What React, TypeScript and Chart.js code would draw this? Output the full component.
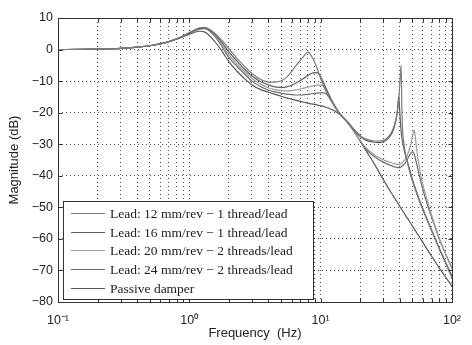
import { useEffect, useRef } from 'react';
import { Chart, registerables } from 'chart.js';

Chart.register(...registerables);

const FREQ = [0.1, 0.15, 0.2, 0.3, 0.4, 0.5, 0.6, 0.7, 0.8, 0.9,
  1.0, 1.1, 1.2, 1.3, 1.4, 1.5, 1.6, 1.8, 2.0, 2.3,
  2.6, 3.0, 3.5, 4.0, 4.5, 5.0, 5.5, 6.0, 6.5, 7.0,
  7.5, 8.0, 8.5, 9.0, 9.5, 10, 10.5, 11, 11.5, 12,
  13, 14, 16, 18, 20, 22, 25, 28, 31, 34,
  36, 37.5, 38.5, 39.3, 40, 40.5, 41, 41.5, 42, 43,
  44, 45, 46, 47.5, 49, 50.5, 51.5, 52.5, 54, 56,
  58, 60, 65, 70, 75, 80, 90, 100];

const LEAD12 = [0, 0.05, 0.15, 0.4, 0.8, 1.2, 1.8, 2.5, 3.4, 4.4,
  5.4, 6.3, 6.9, 7.0, 6.6, 5.8, 4.8, 2.6, 0.3, -2.7,
  -5.1, -7.6, -9.5, -10.3, -10.3, -9.9, -8.8, -7.0, -5.0, -3.4,
  -1.9, -0.8, -2.0, -4.0, -6.5, -9.2, -11.5, -13.3, -14.8, -16.1,
  -18.3, -20.3, -22.8, -25.3, -27.2, -28.3, -28.9, -29.0, -28.5, -26.8,
  -24.5, -22.0, -19.2, -15.8, -11.2, -7.5, -5.0, -18.0, -25.0, -29.5,
  -32.5, -34.5, -36.2, -38.5, -40.5, -42.3, -43.3, -44.3, -45.8, -47.6,
  -49.3, -50.8, -54.3, -57.5, -60.4, -63.2, -68.0, -72.5];

const LEAD16 = [0, 0.05, 0.15, 0.4, 0.8, 1.2, 1.8, 2.5, 3.4, 4.3,
  5.2, 6.1, 6.7, 6.8, 6.4, 5.5, 4.4, 1.9, -0.7, -3.6,
  -6.0, -8.4, -10.2, -11.2, -11.8, -12.0, -11.8, -11.3, -10.6, -9.8,
  -9.0, -8.2, -7.6, -7.3, -7.4, -8.6, -10.4, -12.3, -14.1, -15.7,
  -18.3, -20.3, -22.9, -25.5, -27.6, -28.7, -29.3, -29.5, -29.0, -27.3,
  -25.2, -22.3, -19.0, -14.8, -19.5, -23.0, -25.8, -27.8, -29.2, -31.3,
  -33.0, -34.5, -35.8, -37.8, -39.8, -41.7, -42.8, -43.8, -45.3, -47.2,
  -48.9, -50.4, -54.0, -57.2, -60.1, -62.9, -67.6, -71.8];

const LEAD20 = [0, 0.05, 0.15, 0.4, 0.8, 1.2, 1.8, 2.5, 3.4, 4.3,
  5.1, 6.0, 6.6, 6.7, 6.2, 5.2, 4.0, 1.2, -1.6, -4.5,
  -6.8, -9.2, -11.0, -12.1, -12.7, -13.0, -13.1, -13.0, -12.8, -12.5,
  -12.2, -11.9, -11.6, -11.4, -11.3, -11.3, -11.6, -12.6, -14.1, -15.7,
  -18.4, -20.4, -23.0, -25.9, -28.8, -31.0, -33.0, -34.3, -35.2, -35.8,
  -36.1, -36.3, -36.4, -36.4, -36.3, -36.2, -36.1, -35.9, -35.7, -35.3,
  -34.8, -34.1, -33.2, -31.5, -29.3, -26.7, -25.5, -27.5, -32.0, -36.5,
  -40.0, -42.8, -48.0, -52.5, -56.3, -59.7, -65.0, -69.5];

const LEAD24 = [0, 0.05, 0.15, 0.4, 0.8, 1.2, 1.8, 2.5, 3.4, 4.3,
  5.0, 5.9, 6.5, 6.6, 6.1, 5.0, 3.7, 0.5, -2.5, -5.3,
  -7.5, -10.0, -11.8, -12.8, -13.4, -13.8, -14.1, -14.3, -14.4, -14.4,
  -14.3, -14.2, -14.0, -13.9, -13.8, -13.7, -13.7, -14.0, -14.9, -16.2,
  -18.6, -20.5, -23.1, -26.0, -29.0, -31.4, -33.6, -35.0, -36.0, -36.7,
  -37.1, -37.3, -37.4, -37.4, -37.4, -37.3, -37.2, -37.0, -36.8, -36.4,
  -35.9, -35.3, -34.6, -33.5, -32.6, -32.4, -33.0, -34.3, -36.5, -39.3,
  -42.0, -44.3, -49.2, -53.2, -56.7, -60.0, -65.0, -69.2];

const PASSIVE = [0, 0.05, 0.15, 0.4, 0.8, 1.2, 1.8, 2.5, 3.3, 4.1,
  4.8, 5.5, 5.8, 5.6, 4.7, 3.4, 2.0, -0.9, -3.8, -6.8,
  -9.0, -11.2, -12.7, -13.5, -14.2, -14.8, -15.3, -15.7, -16.1, -16.4,
  -16.7, -17.0, -17.2, -17.4, -17.6, -17.8, -18.0, -18.3, -18.6, -18.9,
  -19.6, -20.6, -23.0, -26.0, -29.0, -31.8, -35.5, -39.0, -42.2, -45.0,
  -46.6, -47.8, -48.5, -49.1, -49.6, -50.0, -50.3, -50.7, -51.0, -51.7,
  -52.4, -53.0, -53.6, -54.5, -55.4, -56.2, -56.8, -57.3, -58.1, -59.1,
  -60.1, -61.1, -63.4, -65.5, -67.4, -69.2, -72.3, -75.0];

const SERIES_LABELS = [
  'Lead: 12 mm/rev \u2212 1 thread/lead',
  'Lead: 16 mm/rev \u2212 1 thread/lead',
  'Lead: 20 mm/rev \u2212 2 threads/lead',
  'Lead: 24 mm/rev \u2212 2 threads/lead',
  'Passive damper',
];
const SERIES_COLORS = ['#7c7c7c', '#5e5e5e', '#9c9c9c', '#6c6c6c', '#585858'];

const X_TICKS = [0.1, 0.2, 0.3, 0.4, 0.5, 0.6, 0.7, 0.8, 0.9,
  1, 2, 3, 4, 5, 6, 7, 8, 9,
  10, 20, 30, 40, 50, 60, 70, 80, 90, 100];
const X_DECADES = [0.1, 1, 10, 100];
const X_DECADE_LABELS = ['10\u207B\u00B9', '10\u2070', '10\u00B9', '10\u00B2'];
const Y_TICKS = [10, 0, -10, -20, -30, -40, -50, -60, -70, -80];

const SANS = 'Liberation Sans, Arial, Helvetica, sans-serif';
const SERIF = 'Liberation Serif, Times New Roman, serif';

const frameAndTicks = {
  id: 'frameAndTicks',
  afterDatasetsDraw(chart: any) {
    const { ctx, chartArea: ca, scales } = chart;
    ctx.save();
    ctx.strokeStyle = '#333';
    ctx.lineWidth = 1;
    ctx.beginPath();
    const L = Math.round(ca.left) + 0.5, R = Math.round(ca.right) + 0.5;
    const T = Math.round(ca.top) + 0.5, B = Math.round(ca.bottom) + 0.5;
    X_TICKS.forEach((v) => {
      const x = Math.round(scales.x.getPixelForValue(v)) + 0.5;
      ctx.moveTo(x, B); ctx.lineTo(x, B - 4);
      ctx.moveTo(x, T); ctx.lineTo(x, T + 4);
    });
    Y_TICKS.forEach((v) => {
      const y = Math.round(scales.y.getPixelForValue(v)) + 0.5;
      ctx.moveTo(L, y); ctx.lineTo(L + 4, y);
      ctx.moveTo(R, y); ctx.lineTo(R - 4, y);
    });
    ctx.stroke();
    ctx.strokeRect(L, T, R - L, B - T);
    ctx.restore();
  },
};

const boxLegend = {
  id: 'boxLegend',
  afterDraw(chart: any) {
    const { ctx, chartArea: ca } = chart;
    const w = 250, h = 98;
    const x0 = Math.round(ca.left) + 5;
    const y0 = Math.round(ca.bottom) - 3 - h;
    ctx.save();
    ctx.fillStyle = '#fff';
    ctx.fillRect(x0, y0, w, h);
    ctx.strokeStyle = '#333';
    ctx.lineWidth = 1;
    ctx.strokeRect(x0 + 0.5, y0 + 0.5, w, h);
    ctx.font = '13.5px ' + SERIF;
    ctx.textBaseline = 'middle';
    ctx.textAlign = 'left';
    chart.data.datasets.forEach((ds: any, i: number) => {
      const y = Math.round(y0 + 12 + i * 18.7) + 0.5;
      ctx.strokeStyle = ds.borderColor;
      ctx.lineWidth = 1;
      ctx.beginPath();
      ctx.moveTo(x0 + 8, y);
      ctx.lineTo(x0 + 42, y);
      ctx.stroke();
      ctx.fillStyle = '#222';
      ctx.fillText(ds.label, x0 + 47, y + 0.5);
    });
    ctx.restore();
  },
};

export default function App() {
  const ref = useRef<HTMLCanvasElement | null>(null);

  useEffect(() => {
    if (!ref.current) return;
    const series = [LEAD12, LEAD16, LEAD20, LEAD24, PASSIVE];
    const chart = new Chart(ref.current, {
      type: 'line',
      data: {
        datasets: series.map((vals, i) => ({
          label: SERIES_LABELS[i],
          data: FREQ.map((f, j) => ({ x: f, y: vals[j] })),
          borderColor: SERIES_COLORS[i],
          backgroundColor: SERIES_COLORS[i],
          borderWidth: 1.2,
          pointRadius: 0,
          cubicInterpolationMode: 'monotone' as const,
          fill: false,
        })),
      },
      options: {
        responsive: false,
        animation: false,
        devicePixelRatio: 1,
        layout: { padding: { left: 0, top: 18, right: 10, bottom: 0 } },
        plugins: {
          legend: { display: false },
          tooltip: { enabled: false },
        },
        scales: {
          x: {
            type: 'logarithmic',
            min: 0.1,
            max: 100,
            afterBuildTicks: (axis: any) => {
              axis.ticks = X_TICKS.map((v) => ({ value: v }));
            },
            afterFit: (axis: any) => { axis.height = 43; },
            ticks: {
              autoSkip: false,
              maxRotation: 0,
              minRotation: 0,
              padding: 11,
              color: '#222',
              font: { family: SANS, size: 12.5 },
              callback: (v: any) => {
                const k = X_DECADES.indexOf(Number(v));
                return k >= 0 ? X_DECADE_LABELS[k] : '';
              },
            },
            grid: { color: 'rgba(0,0,0,0.7)', lineWidth: 1, drawTicks: false },
            border: { display: false, dash: [1, 3] },
            title: {
              display: true,
              text: 'Frequency  (Hz)',
              color: '#222',
              font: { family: SANS, size: 13 },
              padding: { top: 0, bottom: 4 },
            },
          },
          y: {
            type: 'linear',
            min: -80,
            max: 10,
            afterBuildTicks: (axis: any) => {
              axis.ticks = Y_TICKS.map((v) => ({ value: v }));
            },
            afterFit: (axis: any) => { axis.width = 58; },
            ticks: {
              padding: 5,
              color: '#222',
              font: { family: SANS, size: 12.5 },
              callback: (v: any) => (Number(v) < 0 ? '\u2212' + Math.abs(Number(v)) : String(v)),
            },
            grid: { color: 'rgba(0,0,0,0.7)', lineWidth: 1, drawTicks: false },
            border: { display: false, dash: [1, 3] },
            title: {
              display: true,
              text: 'Magnitude (dB)',
              color: '#222',
              font: { family: SANS, size: 13 },
              padding: { top: 7, bottom: 0 },
            },
          },
        },
      },
      plugins: [frameAndTicks, boxLegend],
    } as any);
    return () => chart.destroy();
  }, []);

  return (
    <div style={{ position: 'fixed', left: 0, top: 0, width: 472, height: 345, background: '#fff' }}>
      <canvas ref={ref} width={472} height={345} style={{ width: 472, height: 345, display: 'block' }} />
    </div>
  );
}
